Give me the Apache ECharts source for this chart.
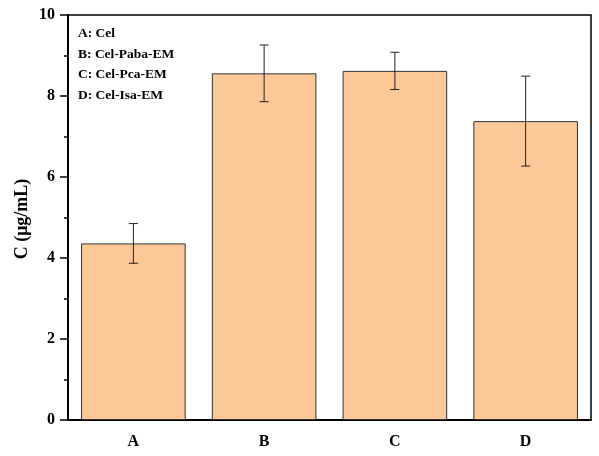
<!DOCTYPE html>
<html>
<head>
<meta charset="utf-8">
<script src="https://cdn.jsdelivr.net/npm/echarts@6/dist/echarts.min.js"></script>
<style>
  html, body { margin: 0; padding: 0; background: #fff; }
  #chart { width: 599px; height: 456px; }
</style>
</head>
<body>
<div id="chart"></div>
<script>
// data
const categories = ['A', 'B', 'C', 'D'];
const concValues = [4.36, 8.56, 8.62, 7.38];
const concErrors = [0.49, 0.70, 0.46, 1.11];
const legendLines = ['A: Cel', 'B: Cel-Paba-EM', 'C: Cel-Pca-EM', 'D: Cel-Isa-EM'];
const yTicks = { min: 0, max: 10, interval: 2 };
const yTitle = 'C (μg/mL)';

const serif = '"Liberation Serif", "Times New Roman", serif';
const chart = echarts.init(document.getElementById('chart'), null, { renderer: 'canvas' });

const errData = concValues.map((v, i) => [i, v - concErrors[i], v + concErrors[i]]);

chart.setOption({
    animation: false,
    grid: {
        left: 68, right: 8, top: 15, bottom: 36,
        show: true, borderColor: '#000', borderWidth: 1.5, backgroundColor: 'transparent'
    },
    xAxis: [
        {
            type: 'category',
            data: categories,
            axisLine: { lineStyle: { color: '#000', width: 2 } },
            axisTick: { alignWithLabel: true, length: 8, lineStyle: { color: '#000', width: 1.5 } },
            axisLabel: { color: '#000', fontFamily: serif, fontWeight: 'bold', fontSize: 16, margin: 14 }
        },
        {
            // boundary minor ticks
            type: 'category',
            data: categories,
            position: 'bottom',
            axisLine: { show: false },
            axisTick: { length: 4, lineStyle: { color: '#000', width: 1.5 } },
            axisLabel: { show: false }
        }
    ],
    yAxis: {
        type: 'value',
        min: yTicks.min, max: yTicks.max, interval: yTicks.interval,
        axisLine: { show: true, lineStyle: { color: '#000', width: 2 } },
        axisTick: { show: true, length: 8, lineStyle: { color: '#000', width: 1.5 } },
        minorTick: { show: true, splitNumber: 2, length: 4, lineStyle: { color: '#000', width: 1.5 } },
        splitLine: { show: false },
        axisLabel: { color: '#000', fontFamily: serif, fontWeight: 'bold', fontSize: 16, margin: 13 }
    },
    series: [
        {
            type: 'bar',
            data: concValues,
            barWidth: '80%',
            itemStyle: { color: '#FCC898', borderColor: '#333', borderWidth: 1 },
            z: 2
        },
        {
            type: 'custom',
            data: errData,
            z: 3,
            renderItem: (params, api) => {
                const x = api.value(0);
                const lo = api.coord([x, api.value(1)]);
                const hi = api.coord([x, api.value(2)]);
                const cap = 4.5;
                const style = { stroke: '#222', lineWidth: 1 };
                return {
                    type: 'group',
                    children: [
                        { type: 'line', shape: { x1: lo[0], y1: lo[1], x2: hi[0], y2: hi[1] }, style },
                        { type: 'line', shape: { x1: hi[0] - cap, y1: hi[1], x2: hi[0] + cap, y2: hi[1] }, style },
                        { type: 'line', shape: { x1: lo[0] - cap, y1: lo[1], x2: lo[0] + cap, y2: lo[1] }, style }
                    ]
                };
            }
        }
    ],
    graphic: [
        {
            type: 'text',
            left: 78, top: 23.5,
            style: {
                text: legendLines.join('\n'),
                fill: '#000',
                font: 'bold 13.5px ' + serif,
                lineHeight: 20.5
            }
        },
        {
            type: 'text',
            x: 22, y: 219,
            rotation: Math.PI / 2,
            style: {
                text: yTitle,
                fill: '#000',
                font: 'bold 18px ' + serif,
                align: 'center',
                verticalAlign: 'middle'
            }
        }
    ]
});
</script>
</body>
</html>
